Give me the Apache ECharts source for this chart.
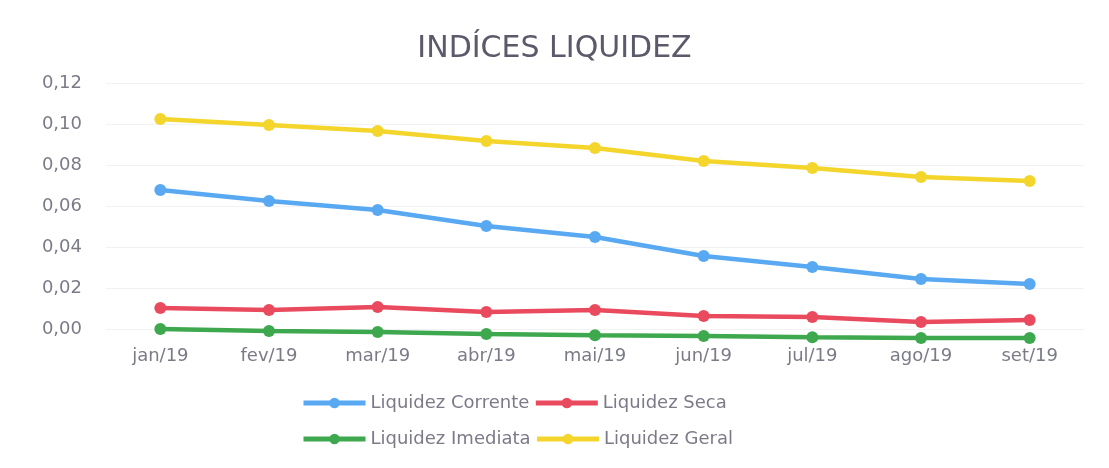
<!DOCTYPE html>
<html>
<head>
<meta charset="utf-8">
<script src="https://cdn.jsdelivr.net/npm/echarts@6/dist/echarts.min.js"></script>
<style>
  html, body { margin: 0; padding: 0; background: #fff; }
  #chart { width: 1109px; height: 468px; }
</style>
</head>
<body>
<div id="chart"></div>
<script>
// categorias (meses)
const meses = ["jan/19", "fev/19", "mar/19", "abr/19", "mai/19", "jun/19", "jul/19", "ago/19", "set/19"];

// séries
const liquidezCorrente = [0.0678, 0.0624, 0.0580, 0.0502, 0.0449, 0.0356, 0.0302, 0.0244, 0.0220];
const liquidezSeca = [0.0102, 0.0093, 0.0107, 0.0083, 0.0093, 0.0063, 0.0059, 0.0034, 0.0044];
const liquidezImediata = [0.0000, -0.0010, -0.0015, -0.0024, -0.0030, -0.0034, -0.0040, -0.0044, -0.0044];
const liquidezGeral = [0.1024, 0.0995, 0.0966, 0.0917, 0.0883, 0.0820, 0.0785, 0.0741, 0.0722];

const fonte = "'DejaVu Sans', 'Open Sans', sans-serif";
const corTexto = "#7b7b88";

function serie(nome, dados, cor) {
  return {
    name: nome,
    type: "line",
    data: dados,
    clip: false,
    symbol: "circle",
    symbolSize: 12,
    itemStyle: { color: cor },
    lineStyle: { color: cor, width: 4.5 },
  };
}

// as duas linhas da legenda
function legenda(nomes, topo) {
  return {
    data: nomes,
    left: 296,
    top: topo,
    itemWidth: 62,
    itemHeight: 13,
    itemGap: 4,
    lineStyle: { width: 5 },
    textStyle: { fontFamily: fonte, fontSize: 18, color: corTexto },
  };
}

let chart = echarts.init(document.getElementById("chart"));

let option = {
  animation: false,
  backgroundColor: "#fff",
  title: {
    text: "INDÍCES LIQUIDEZ",
    left: "center",
    top: 29,
    textStyle: {
      fontFamily: fonte,
      fontSize: 30,
      fontWeight: "normal",
      color: "#5a5a6a",
    },
  },
  legend: [
    legenda(["Liquidez Corrente", "Liquidez Seca"], 389),
    legenda(["Liquidez Imediata", "Liquidez Geral"], 425),
  ],
  grid: {
    left: 106,
    right: 25,
    top: 83,
    bottom: 139,
  },
  xAxis: {
    type: "category",
    data: meses,
    boundaryGap: true,
    axisTick: { show: false },
    axisLine: { show: false },
    axisLabel: {
      margin: 18,
      fontFamily: fonte,
      fontSize: 18,
      color: corTexto,
    },
    splitLine: { show: false },
  },
  yAxis: {
    type: "value",
    min: 0,
    max: 0.12,
    interval: 0.02,
    axisLine: { show: false },
    axisTick: { show: false },
    axisLabel: {
      margin: 24,
      fontFamily: fonte,
      fontSize: 18,
      color: corTexto,
      formatter: (v) => v.toFixed(2).replace(".", ","),
    },
    splitLine: { lineStyle: { color: "#f2f2f4" } },
  },
  series: [
    serie("Liquidez Corrente", liquidezCorrente, "#58a8f2"),
    serie("Liquidez Seca", liquidezSeca, "#ea4a5e"),
    serie("Liquidez Imediata", liquidezImediata, "#3ea84e"),
    serie("Liquidez Geral", liquidezGeral, "#f3d52c"),
  ],
};

chart.setOption(option);
</script>
</body>
</html>
